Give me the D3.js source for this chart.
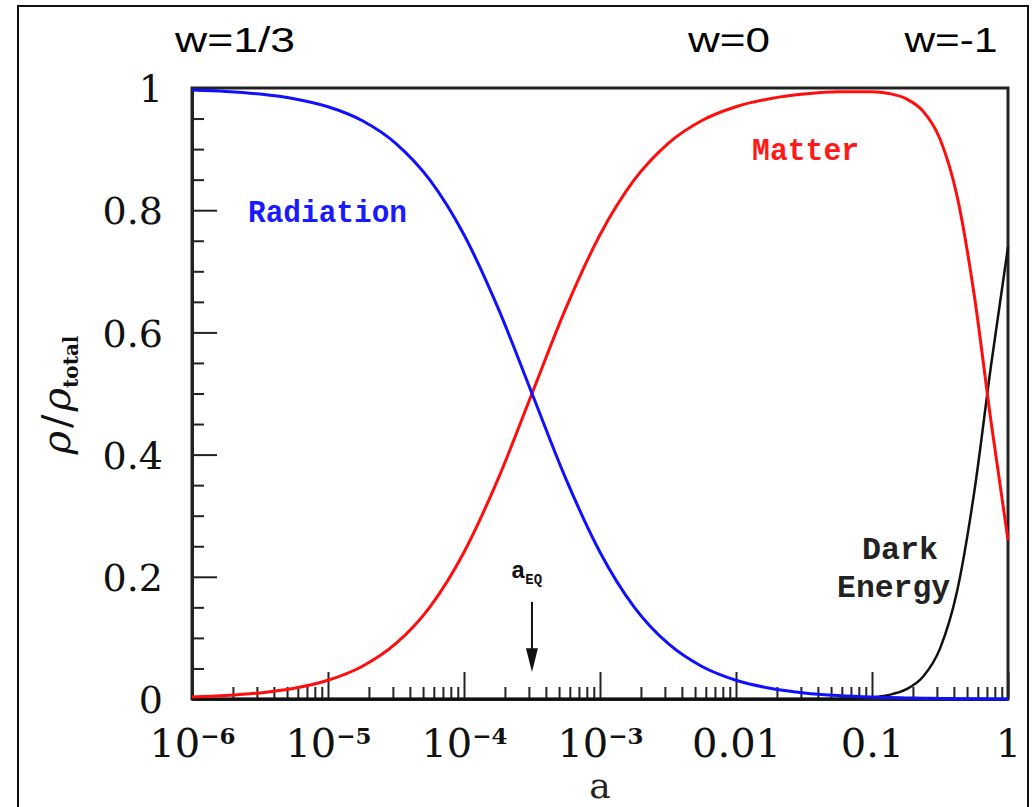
<!DOCTYPE html>
<html>
<head>
<meta charset="utf-8">
<script src="https://cdn.jsdelivr.net/npm/d3@7"></script>
<style>
  html, body { margin: 0; padding: 0; background: #ffffff; }
  svg { display: block; }
</style>
</head>
<body>
<svg id="chart" width="1034" height="807"></svg>
<script>
// log10 of the scale factor a at each sample
const aExp = [-6, -5.75, -5.5, -5.25, -5, -4.75, -4.5, -4.25, -4, -3.75, -3.5, -3.25,
  -3, -2.75, -2.5, -2.25, -2, -1.75, -1.5, -1.25, -1, -0.875, -0.75, -0.625,
  -0.5, -0.375, -0.25, -0.125, 0];

// density fractions rho/rho_total
const radiation = [0.9968, 0.9944, 0.9901, 0.9825, 0.9693, 0.9468, 0.9091, 0.8491,
  0.7597, 0.6401, 0.5, 0.3599, 0.2403, 0.1509, 0.0909, 0.0532, 0.0307, 0.0175,
  0.0099, 0.0056, 0.0031, 0.0023, 0.0017, 0.0013, 0.0009, 0.0006, 0.0004, 0.0002, 0.0001];
const matter = [0.0032, 0.0056, 0.0099, 0.0175, 0.0307, 0.0532, 0.0909, 0.1509,
  0.2403, 0.3599, 0.5, 0.6401, 0.7597, 0.8491, 0.9091, 0.9468, 0.9693, 0.9825,
  0.9900, 0.9939, 0.9940, 0.9910, 0.9825, 0.9622, 0.9166, 0.8236, 0.6637, 0.4544, 0.2600];
const darkEnergy = [0, 0, 0, 0, 0, 0, 0, 0, 0, 0, 0, 0, 0, 0, 0, 0, 0, 0,
  0.0001, 0.0005, 0.0028, 0.0067, 0.0157, 0.0365, 0.0825, 0.1758, 0.3359, 0.5454, 0.7399];

// axis ticks
const xMajorTicks = [1e-6, 1e-5, 1e-4, 1e-3, 0.01, 0.1, 1];
const xTickLabels = [["10", "\u22126"], ["10", "\u22125"], ["10", "\u22124"], ["10", "\u22123"],
  ["0.01", ""], ["0.1", ""], ["1", ""]];
const yMajorTicks = [0, 0.2, 0.4, 0.6, 0.8, 1];
const yTickLabels = ["0", "0.2", "0.4", "0.6", "0.8", "1"];
const yMinorTicks = [0.05, 0.1, 0.15, 0.25, 0.3, 0.35, 0.45, 0.5, 0.55, 0.65, 0.7, 0.75, 0.85, 0.9, 0.95];

// matter-radiation equality
const aEq = 3.16e-4;

// equation-of-state labels along the top
const wLabels = ["w=1/3", "w=0", "w=-1"];

const svg = d3.select("#chart");
const margin = { left: 192, top: 88, right: 26, bottom: 108 };
const W = 1034, H = 807;
const iw = W - margin.left - margin.right;
const ih = H - margin.top - margin.bottom;

const x = d3.scaleLog().domain([1e-6, 1]).range([0, iw]);
const y = d3.scaleLinear().domain([0, 1]).range([ih, 0]);

const serif = "'DejaVu Serif', serif";
const mono = "'Liberation Mono', 'Courier New', monospace";

// outer frame
svg.append("rect")
  .attr("x", 18).attr("y", 6).attr("width", 1010).attr("height", 830)
  .attr("fill", "none").attr("stroke", "#111").attr("stroke-width", 2);

// top labels
const wPos = [[235, 52], [729, 52], [951, 52]];
const wLen = [120, 82, 93];
wLabels.forEach((t, i) => {
  svg.append("text")
    .attr("x", wPos[i][0] - wLen[i] / 2).attr("y", wPos[i][1])
    .attr("textLength", wLen[i]).attr("lengthAdjust", "spacingAndGlyphs")
    .attr("font-family", "'Liberation Sans', Arial, sans-serif")
    .attr("font-size", 35).attr("fill", "#000")
    .text(t);
});

const g = svg.append("g").attr("transform", `translate(${margin.left},${margin.top})`);

// plot frame
g.append("rect")
  .attr("x", 0).attr("y", 0).attr("width", iw).attr("height", ih)
  .attr("fill", "#fff").attr("stroke", "#222").attr("stroke-width", 3);

// x axis: minor ticks
const xMinorTicks = [];
for (let d = -6; d < 0; d++) {
  for (let k = 2; k <= 9; k++) xMinorTicks.push(k * Math.pow(10, d));
}
g.append("g").attr("transform", `translate(0,${ih})`)
  .call(d3.axisBottom(x).tickValues(xMinorTicks).tickSize(-12).tickSizeOuter(0).tickFormat(""))
  .call(s => s.select(".domain").remove())
  .call(s => s.selectAll(".tick line").attr("stroke", "#222").attr("stroke-width", 2));

// x axis: major ticks and labels
const xAxisG = g.append("g").attr("transform", `translate(0,${ih})`)
  .call(d3.axisBottom(x).tickValues(xMajorTicks).tickSize(-27).tickSizeOuter(0).tickFormat(""))
  .call(s => s.select(".domain").attr("stroke", "#222").attr("stroke-width", 3))
  .call(s => s.selectAll(".tick line").attr("stroke", "#222").attr("stroke-width", 2));
xAxisG.selectAll(".tick").each(function (d, i) {
  const t = d3.select(this).select("text")
    .attr("y", 58).attr("dy", 0)
    .attr("font-family", serif).attr("font-size", 40).attr("fill", "#111")
    .attr("text-anchor", "middle");
  t.text(null);
  t.append("tspan").text(xTickLabels[i][0]);
  if (xTickLabels[i][1]) {
    t.append("tspan").attr("font-size", 23).attr("font-weight", "bold")
      .attr("dy", -13).text(xTickLabels[i][1]);
  }
});

// y axis: minor ticks
g.append("g")
  .call(d3.axisLeft(y).tickValues(yMinorTicks).tickSize(-12).tickSizeOuter(0).tickFormat(""))
  .call(s => s.select(".domain").remove())
  .call(s => s.selectAll(".tick line").attr("stroke", "#222").attr("stroke-width", 2));

// y axis: major ticks and labels
g.append("g")
  .call(d3.axisLeft(y).tickValues(yMajorTicks).tickSize(-25).tickSizeOuter(0).tickPadding(29)
    .tickFormat((d, i) => yTickLabels[i]))
  .call(s => s.select(".domain").attr("stroke", "#222").attr("stroke-width", 3))
  .call(s => s.selectAll(".tick line").attr("stroke", "#222").attr("stroke-width", 2))
  .call(s => s.selectAll(".tick text")
    .attr("font-family", serif).attr("font-size", 38).attr("fill", "#111").attr("dy", "0.36em"));

// axis titles
svg.append("text")
  .attr("x", margin.left + iw / 2).attr("y", 798)
  .attr("text-anchor", "middle")
  .attr("font-family", serif).attr("font-size", 36).attr("fill", "#222")
  .text("a");

const yTitle = svg.append("text")
  .attr("transform", `translate(70,395) rotate(-90)`)
  .attr("text-anchor", "middle")
  .attr("font-family", serif).attr("fill", "#111");
yTitle.append("tspan").attr("font-size", 40).attr("font-style", "italic").text("\u03C1");
yTitle.append("tspan").attr("font-size", 40).attr("dx", 3).text("/");
yTitle.append("tspan").attr("font-size", 40).attr("dx", 3).attr("font-style", "italic").text("\u03C1");
yTitle.append("tspan").attr("font-size", 20).attr("font-weight", "bold").attr("dy", 8).text("total");

// curves
const line = vals => d3.line()
  .x((d, i) => x(Math.pow(10, aExp[i])))
  .y(d => y(d))
  .curve(d3.curveMonotoneX)(vals);

g.append("path").attr("d", line(darkEnergy))
  .attr("fill", "none").attr("stroke", "#111").attr("stroke-width", 2.5);
g.append("path").attr("d", line(matter))
  .attr("fill", "none").attr("stroke", "#ff0d0d").attr("stroke-width", 3);
g.append("path").attr("d", line(radiation))
  .attr("fill", "none").attr("stroke", "#1010ff").attr("stroke-width", 3);

// curve labels
const curveLabels = [
  { text: "Radiation", a: Math.pow(10, -5.588), v: 0.781, len: 159, color: "#1a1aff" },
  { text: "Matter", a: Math.pow(10, -1.882), v: 0.882, len: 107, color: "#ff1a1a" },
  { text: "Dark", a: Math.pow(10, -1.074), v: 0.229, len: 76, color: "#222" },
  { text: "Energy", a: Math.pow(10, -1.257), v: 0.167, len: 113, color: "#222" }
];
curveLabels.forEach(l => {
  g.append("text")
    .attr("x", x(l.a)).attr("y", y(l.v))
    .attr("textLength", l.len).attr("lengthAdjust", "spacingAndGlyphs")
    .attr("font-family", mono).attr("font-weight", "bold").attr("font-size", 31)
    .attr("fill", l.color)
    .text(l.text);
});

// a_EQ marker
const ax = x(aEq);
g.append("line")
  .attr("x1", ax).attr("x2", ax).attr("y1", y(0.159)).attr("y2", y(0.075))
  .attr("stroke", "#111").attr("stroke-width", 2);
g.append("path")
  .attr("d", `M${ax - 6},${y(0.083)} L${ax + 6},${y(0.083)} L${ax},${y(0.044)} Z`)
  .attr("fill", "#111");
const eqLabel = g.append("text")
  .attr("x", ax - 21).attr("y", y(0.198))
  .attr("font-family", mono).attr("font-weight", "bold").attr("fill", "#111");
eqLabel.append("tspan").attr("font-size", 24).text("a");
eqLabel.append("tspan").attr("font-size", 14).attr("dy", 6).text("EQ");
</script>
</body>
</html>
